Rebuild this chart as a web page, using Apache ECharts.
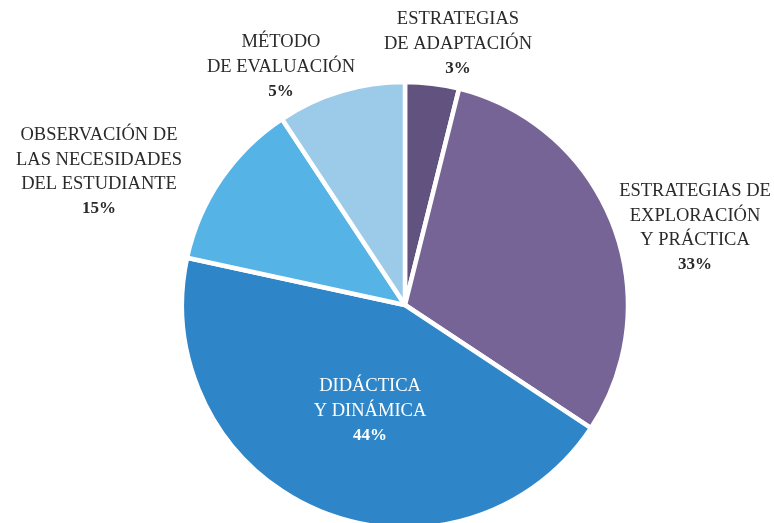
<!DOCTYPE html>
<html><head><meta charset="utf-8">
<script src="https://cdn.jsdelivr.net/npm/echarts@6/dist/echarts.min.js"></script>
<style>html,body{margin:0;padding:0;background:#fff}#c{width:774px;height:523px}</style>
</head><body><div id="c"></div>
<script>
const categories = [
  'ESTRATEGIAS\nDE ADAPTACIÓN',
  'ESTRATEGIAS DE\nEXPLORACIÓN\nY PRÁCTICA',
  'DIDÁCTICA\nY DINÁMICA',
  'OBSERVACIÓN DE\nLAS NECESIDADES\nDEL ESTUDIANTE',
  'MÉTODO\nDE EVALUACIÓN'
];
const sliceValues = [3.9, 30.4, 44.1, 12.3, 9.3];
const percentLabels = ['3%', '33%', '44%', '15%', '5%'];
const colors = ['#62527f', '#776496', '#2e86c8', '#55b3e6', '#9ccbea'];

const labelPos = [[458, 44], [695, 228], [370, 411], [99, 172], [281, 67]];

const chart = echarts.init(document.getElementById('c'));
chart.setOption({
  animation: false,
  series: [{
    type: 'pie',
    center: [405, 305],
    radius: 223,
    startAngle: 90,
    clockwise: true,
    data: categories.map((c, i) => ({
      name: c, value: sliceValues[i],
      itemStyle: { color: colors[i] },
      label: i === 2 ? { color: '#ffffff', rich: { n: { color: '#fff' }, p: { color: '#fff' } } } : {}
    })),
    itemStyle: { borderColor: '#ffffff', borderWidth: 4.5 },
    label: {
      show: true,
      position: 'outside',
      color: '#2a2a2a',
      fontFamily: 'Liberation Serif',
      fontSize: 18.5,
      lineHeight: 24.5,
      align: 'center',
      overflow: 'none',
      width: 300,
      formatter: p => {
        const lines = p.name.split('\n').map(l => '{n|' + l + '}').join('\n');
        return lines + '\n{p|' + percentLabels[p.dataIndex] + '}';
      },
      rich: {
        n: { fontFamily: 'Liberation Serif', fontSize: 18.5, lineHeight: 24.5, color: '#2a2a2a', align: 'center' },
        p: { fontFamily: 'Liberation Serif', fontSize: 17, fontWeight: 'bold', lineHeight: 24.5, color: '#2a2a2a', align: 'center' }
      }
    },
    labelLine: { show: false },
    labelLayout: params => ({
      x: labelPos[params.dataIndex][0],
      y: labelPos[params.dataIndex][1],
      align: 'center',
      verticalAlign: 'middle'
    })
  }]
});
</script></body></html>
